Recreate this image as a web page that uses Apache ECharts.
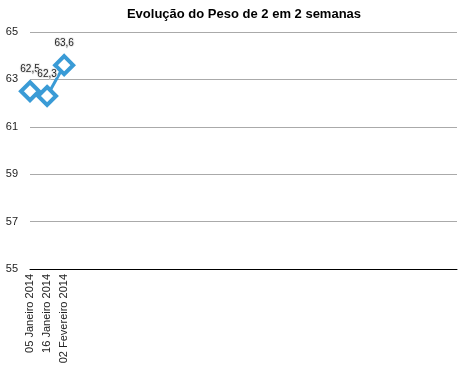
<!DOCTYPE html>
<html>
<head>
<meta charset="utf-8">
<script src="https://cdn.jsdelivr.net/npm/echarts@6/dist/echarts.min.js"></script>
<style>html,body{margin:0;padding:0;background:#fff}#c{width:463px;height:372px}</style>
</head>
<body>
<div id="c"></div>
<script>
var titleText = 'Evolução do Peso de 2 em 2 semanas';
var categories = ['05 Janeiro 2014', '16 Janeiro 2014', '02 Fevereiro 2014'];
var weights = [62.5, 62.3, 63.6];
var yTicks = [55, 57, 59, 61, 63, 65];

var chart = echarts.init(document.getElementById('c'), null, {renderer: 'canvas'});
chart.setOption({
  animation: false,
  backgroundColor: '#fff',
  title: {
    text: titleText,
    left: 239, top: 3, textAlign: 'center',
    textStyle: {fontFamily: 'Liberation Sans, Arial, sans-serif', fontSize: 13, fontWeight: 'bold', color: '#000'}
  },
  grid: {left: 30, right: 6, top: 32, bottom: 103, containLabel: false},
  xAxis: {
    type: 'category',
    data: categories,
    boundaryGap: false,
    max: 25,
    axisLine: {show: true, lineStyle: {color: '#000', width: 1}},
    axisTick: {show: false},
    splitLine: {show: false},
    axisLabel: {
      rotate: 90, interval: 0, margin: 5,
      fontFamily: 'Liberation Sans, Arial, sans-serif', fontSize: 11, color: '#222'
    }
  },
  yAxis: {
    type: 'value',
    min: yTicks[0], max: yTicks[yTicks.length - 1], interval: 2,
    axisLine: {show: false},
    axisTick: {show: false},
    splitLine: {lineStyle: {color: '#aaa', width: 1}},
    axisLabel: {margin: 12, fontFamily: 'Liberation Sans, Arial, sans-serif', fontSize: 11, color: '#222'}
  },
  series: [{
    type: 'line',
    data: weights,
    symbol: 'diamond',
    symbolSize: 18,
    showAllSymbol: true,
    lineStyle: {color: '#3a9bd6', width: 3},
    itemStyle: {color: '#fff', borderColor: '#3a9bd6', borderWidth: 4},
    label: {
      show: true, position: 'top', distance: 6,
      formatter: function (p) { return p.value.toFixed(1).replace('.', ','); },
      fontFamily: 'Liberation Sans, Arial, sans-serif', fontSize: 10, color: '#222',
      textBorderColor: 'rgba(235,235,235,0.9)', textBorderWidth: 2
    }
  }]
});
</script>
</body>
</html>
